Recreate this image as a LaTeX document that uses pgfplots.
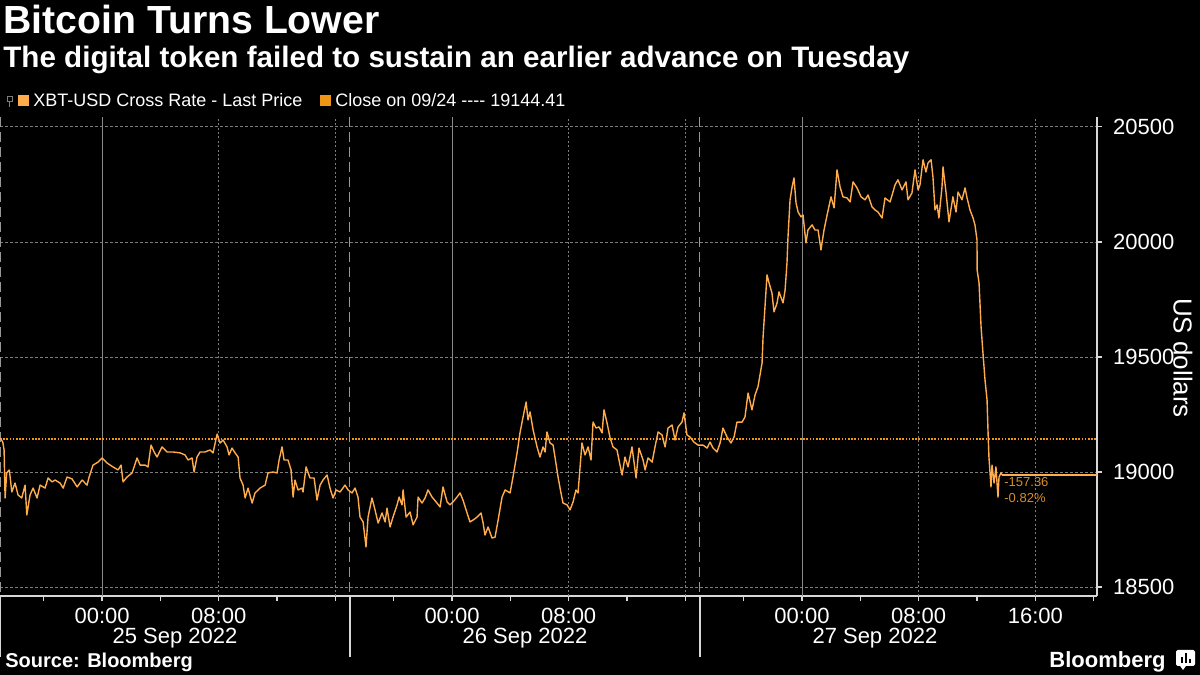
\documentclass[border=0pt]{standalone}
\usepackage{fontspec}
\setmainfont{Liberation Sans}
\usepackage{pgfplots}
\pgfplotsset{compat=1.18}

\definecolor{lineorange}{RGB}{255,172,76}
\definecolor{closeorange}{RGB}{240,150,20}
\definecolor{labelorange}{RGB}{215,140,40}
\definecolor{gridgray}{RGB}{125,125,125}
\definecolor{axisgray}{RGB}{215,215,215}

\begin{document}
\begin{tikzpicture}
\fill[black] (0,0) rectangle (600pt,337.5pt);
\useasboundingbox (0,0) rectangle (600pt,337.5pt);

% titles
\node[anchor=base west, inner sep=0, text=white, font=\bfseries\fontsize{19.6}{22}\selectfont] at (1.5pt,320.5pt) {Bitcoin Turns Lower};
\node[anchor=base west, inner sep=0, text=white, font=\bfseries\fontsize{14.8}{17}\selectfont] at (1.5pt,303.5pt) {The digital token failed to sustain an earlier advance on Tuesday};

% legend
\draw[gridgray, line width=0.4pt] (3.5pt,287pt) rectangle (6pt,289.5pt);
\draw[gridgray, line width=0.4pt] (4.75pt,287pt) -- (4.75pt,284pt);
\fill[lineorange] (9pt,284.5pt) rectangle (14.5pt,290pt);
\node[anchor=base west, inner sep=0, text=white, font=\fontsize{9}{11}\selectfont] at (16.5pt,284.2pt) {XBT-USD Cross Rate - Last Price};
\fill[closeorange] (160pt,284.5pt) rectangle (165.5pt,290pt);
\node[anchor=base west, inner sep=0, text=white, font=\fontsize{9}{11}\selectfont] at (167.5pt,284.2pt) {Close on 09/24 -{}-{}-{}- 19144.41};

\begin{axis}[
    at={(0pt,39.5pt)}, anchor=south west,
    scale only axis, width=548.5pt, height=239.5pt,
    xmin=-7, xmax=68.23, ymin=18461, ymax=20543,
    clip=false,
    axis x line*=bottom, axis y line*=right,
    axis line style={-, axisgray, line width=0.6pt},
    tick align=outside, major tick length=2.5pt,
    tick style={axisgray, line width=0.6pt},
    xtick={-4,0,...,68},
    xticklabels={,00:00,,08:00,,,,00:00,,08:00,,,,00:00,,08:00,,16:00,},
    extra x ticks={5,29,53},
    extra x tick labels={25 Sep 2022,26 Sep 2022,27 Sep 2022},
    extra x tick style={major tick length=0pt, xticklabel style={yshift=-12.5pt}},
    ytick={18500,19000,...,20500},
    ymajorgrids,
    grid style={gridgray, line width=0.4pt, dash pattern=on 1.5pt off 1pt},
    tick label style={text=white, font=\fontsize{11}{13}\selectfont},
    yticklabel style={xshift=2pt},
    scaled y ticks=false,
    /pgf/number format/.cd, 1000 sep={}, assume math mode=true,
]
% vertical grid lines
\pgfplotsinvokeforeach{0,24,48}{
  \draw[gridgray!90, line width=0.5pt] (axis cs:#1,18461) -- (axis cs:#1,20543);
}
\pgfplotsinvokeforeach{8,16,32,40,56,64}{
  \draw[gridgray, line width=0.4pt, dash pattern=on 1pt off 1.2pt] (axis cs:#1,18461) -- (axis cs:#1,20543);
}
\pgfplotsinvokeforeach{-7,17,41}{
  \draw[gridgray!80!white, line width=0.5pt, dash pattern=on 5pt off 2.5pt] (axis cs:#1,20543) -- (axis cs:#1,18461);
  \draw[axisgray, line width=0.6pt] (axis cs:#1,18461) -- ([yshift=-30.5pt]axis cs:#1,18461);
}

% previous close
\addplot[closeorange, line width=1pt, dash pattern=on 0.8pt off 0.8pt] coordinates {(-7,19144.41) (68.23,19144.41)};

% XBT-USD last price
\addplot[lineorange, line width=0.7pt, line join=round] table[x=h, y=v] {
h v
-6.99 19148
-6.81 19130
-6.72 19096
-6.65 18887
-6.54 18996
-6.36 19009
-6.19 18913
-5.97 18952
-5.76 18900
-5.51 18887
-5.28 18943
-5.16 18813
-4.94 18900
-4.73 18930
-4.46 18887
-4.25 18943
-3.91 18930
-3.70 18974
-3.43 18957
-3.22 18965
-2.88 18952
-2.67 18930
-2.40 18978
-2.06 18970
-1.71 18935
-1.37 18965
-1.03 18943
-0.89 18978
-0.62 19030
-0.27 19043
0.00 19061
0.34 19039
0.75 19022
1.10 19009
1.30 19030
1.44 18957
1.71 18978
2.06 18996
2.40 19061
2.61 19030
2.95 19030
3.15 19022
3.36 19117
3.57 19087
3.77 19065
4.11 19109
4.46 19087
4.87 19087
5.35 19083
5.69 19074
5.90 19052
6.17 19061
6.31 19000
6.51 19065
6.72 19087
7.06 19087
7.41 19096
7.61 19083
7.89 19165
8.09 19126
8.30 19139
8.57 19109
8.71 19074
8.91 19104
9.12 19083
9.33 19065
9.46 18974
9.67 18943
9.81 18887
10.01 18930
10.29 18865
10.49 18909
10.83 18930
11.18 18943
11.38 18996
11.73 19000
12.00 18996
12.14 19052
12.34 19109
12.48 19052
12.75 19052
12.96 19009
13.10 18891
13.23 18965
13.44 18922
13.72 18930
13.78 18913
13.99 19022
14.26 18974
14.54 18974
14.74 18878
14.95 18943
15.15 18965
15.43 18987
15.63 18930
15.84 18887
16.05 18922
16.32 18913
16.66 18943
16.87 18922
17.14 18909
17.35 18930
17.55 18891
17.69 18804
17.90 18783
18.10 18674
18.24 18804
18.51 18887
18.72 18835
18.93 18778
19.20 18822
19.41 18783
19.54 18843
19.75 18761
19.95 18804
20.23 18857
20.37 18891
20.57 18857
20.64 18922
20.85 18804
21.12 18826
21.33 18770
21.60 18804
21.67 18891
21.94 18865
22.15 18887
22.35 18922
22.63 18891
22.97 18865
23.18 18848
23.38 18935
23.66 18870
23.86 18857
24.07 18870
24.34 18891
24.55 18909
24.75 18878
25.03 18822
25.23 18783
25.44 18791
25.72 18804
25.99 18822
26.13 18778
26.26 18726
26.47 18761
26.74 18713
26.95 18717
27.16 18791
27.43 18891
27.64 18922
27.98 18909
28.18 18978
28.46 19083
28.66 19170
28.87 19239
29.08 19304
29.21 19226
29.35 19261
29.56 19183
29.83 19109
30.03 19065
30.24 19109
30.38 19087
30.51 19174
30.72 19126
30.93 19117
31.06 19065
31.27 18978
31.47 18909
31.61 18865
31.89 18857
32.09 18835
32.30 18870
32.50 18922
32.64 18909
32.91 19126
33.12 19074
33.33 19109
33.53 19052
33.67 19217
33.88 19191
34.08 19196
34.29 19170
34.42 19270
34.63 19213
34.84 19148
35.04 19109
35.31 19096
35.45 19052
35.66 18987
35.86 19065
36.07 19022
36.34 19109
36.48 19043
36.62 18974
36.82 19104
37.10 19052
37.24 19009
37.44 19061
37.72 19043
37.92 19109
38.13 19174
38.40 19161
38.61 19109
38.81 19191
39.09 19204
39.29 19139
39.50 19196
39.77 19217
39.91 19257
40.11 19161
40.32 19152
40.59 19130
40.87 19117
41.21 19117
41.49 19104
41.69 19130
41.90 19104
42.17 19087
42.38 19126
42.58 19191
42.86 19152
43.13 19126
43.34 19152
43.54 19217
43.89 19217
44.09 19239
44.30 19343
44.57 19270
44.78 19335
44.98 19370
45.26 19474
45.33 19587
45.46 19717
45.60 19857
45.74 19822
45.94 19778
46.08 19696
46.29 19735
46.42 19783
46.70 19735
46.84 19791
46.97 19909
47.04 20022
47.18 20183
47.32 20239
47.45 20278
47.59 20170
47.73 20130
47.93 20109
48.07 20117
48.27 19996
48.41 20052
48.69 20074
48.89 20052
49.10 20052
49.30 19965
49.51 20052
49.72 20117
49.99 20196
50.20 20148
50.40 20313
50.61 20239
50.81 20196
51.09 20191
51.30 20174
51.50 20261
51.77 20235
52.05 20196
52.32 20183
52.53 20204
52.80 20152
53.01 20139
53.21 20130
53.49 20104
53.69 20191
54.04 20174
54.38 20248
54.58 20270
54.86 20226
55.13 20261
55.27 20183
55.54 20213
55.75 20313
55.96 20226
56.09 20248
56.30 20357
56.50 20304
56.64 20343
56.85 20357
56.98 20283
57.12 20139
57.26 20161
57.39 20104
57.60 20239
57.67 20326
57.88 20213
58.08 20087
58.35 20196
58.56 20130
58.70 20217
58.97 20183
59.18 20235
59.32 20191
59.52 20139
59.73 20104
59.86 20074
60.00 20009
60.01 19878
60.14 19822
60.28 19630
60.41 19517
60.55 19400
60.69 19313
60.76 19170
60.82 19065
60.96 18935
61.03 19030
61.17 18952
61.30 19022
61.44 18891
61.51 18978
61.65 18996
61.72 18987.05
};

% last value marker
\addplot[lineorange, line width=0.6pt] coordinates {(61.72,18987.05) (68.23,18987.05)};
\node[anchor=west, inner sep=0, text=labelorange, font=\fontsize{6.5}{8}\selectfont] at (axis cs:61.85,18955) {-157.36};
\node[anchor=west, inner sep=0, text=labelorange, font=\fontsize{6.5}{8}\selectfont] at (axis cs:61.85,18885) {-0.82\%};
\end{axis}

% y axis title
\node[rotate=-90, inner sep=0, text=white, font=\fontsize{13}{15}\selectfont] at (591.5pt,158.5pt) {US dollars};

% footer
\node[anchor=base west, inner sep=0, text=white, font=\bfseries\fontsize{10}{12}\selectfont] at (2.5pt,3.5pt) {Source: Bloomberg};
\node[anchor=base east, inner sep=0, text=white, font=\bfseries\fontsize{11}{13}\selectfont] at (583pt,3.5pt) {Bloomberg};
\fill[white, rounded corners=0.8pt] (588pt,4.5pt) rectangle (597.5pt,12.5pt);
\fill[white] (590pt,4.6pt) -- (591.5pt,2.5pt) -- (593pt,4.6pt) -- cycle;
\fill[black] (590.3pt,6pt) rectangle (591.3pt,9pt);
\fill[black] (592.3pt,6pt) rectangle (593.3pt,11pt);
\fill[black] (594.3pt,6pt) rectangle (595.3pt,8pt);
\end{tikzpicture}
\end{document}
